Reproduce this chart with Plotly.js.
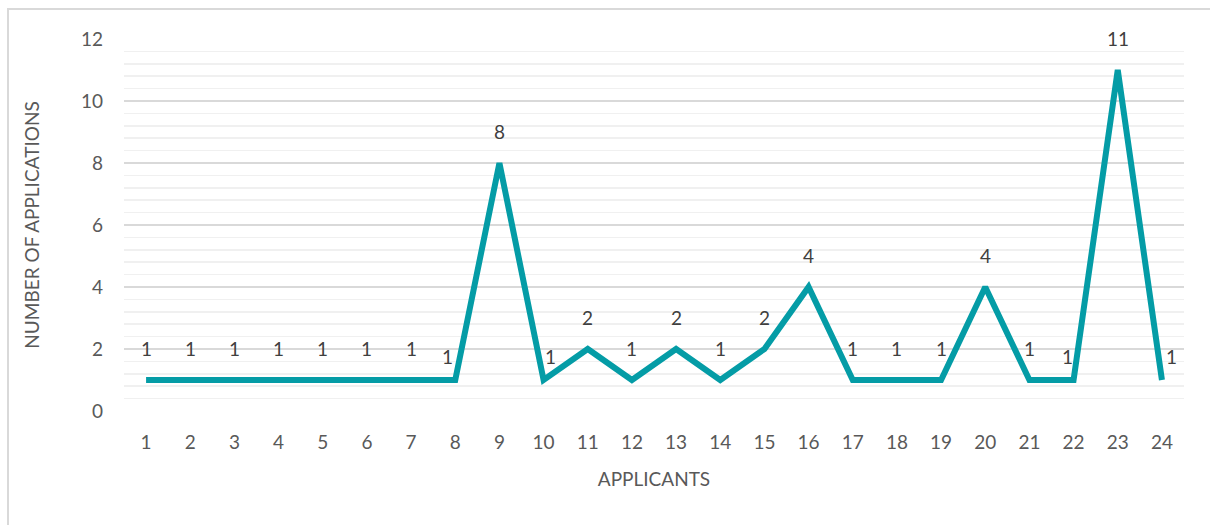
<!DOCTYPE html>
<html>
<head>
<meta charset="utf-8">
<script src="https://cdn.plot.ly/plotly-3.0.1.min.js"></script>
<style>
  html, body { margin: 0; padding: 0; background: #ffffff; }
  #wrap { position: relative; width: 1210px; height: 525px; overflow: hidden; }
  #frame { position: absolute; left: 7px; top: 8px; width: 1300px; height: 600px; border-top: 2px solid #d9d9d9; border-left: 2px solid #d9d9d9; }
  #chart { position: absolute; left: 0; top: 0; width: 1210px; height: 525px; }
</style>
</head>
<body>
<div id="wrap">
  <div id="frame"></div>
  <div id="chart"></div>
</div>
<script>
// Data
const applicants = [1,2,3,4,5,6,7,8,9,10,11,12,13,14,15,16,17,18,19,20,21,22,23,24];
const applications = [1,1,1,1,1,1,1,1,8,1,2,1,2,1,2,4,1,1,1,4,1,1,11,1];
const xTitle = 'APPLICANTS';
const yTitle = 'NUMBER OF APPLICATIONS';

// Label offsets (style only): Excel nudges some labels sideways to avoid the line
const labelDx = [0,0,0,0,0,0,0,-8,0,7,0,0,0,0,0,0,0,0,0,0,0,-6,0,10];
const labelDy = [32,32,32,32,32,32,32,24,32,24,32,32,32,32,32,32,32,32,32,32,32,24,32,24];

const fontFam = 'Lato, "Open Sans", sans-serif';
const grey = '#595959';
const fs = 19;

const trace = {
  x: applicants,
  y: applications,
  type: 'scatter',
  mode: 'lines',
  line: { color: '#049CA6', width: 6, shape: 'linear' },
  hoverinfo: 'skip'
};

const annotations = applicants.map((a, i) => ({
  x: a, y: applications[i], xref: 'x', yref: 'y',
  text: String(applications[i]), showarrow: false,
  xshift: labelDx[i], yshift: labelDy[i],
  font: { family: fontFam, size: fs, color: '#404040' }
}));

const layout = {
  width: 1210, height: 525,
  margin: { l: 124, r: 26, t: 39, b: 114 },
  paper_bgcolor: 'rgba(0,0,0,0)',
  plot_bgcolor: 'rgba(0,0,0,0)',
  showlegend: false,
  font: { family: fontFam, size: fs, color: grey },
  xaxis: {
    range: [0.5, 24.5],
    tickvals: applicants,
    ticktext: applicants.map(String),
    showgrid: false, zeroline: false, showline: false,
    ticks: '', ticklabelstandoff: 18,
    tickfont: { family: fontFam, size: fs, color: grey },
    title: { text: xTitle, font: { family: fontFam, size: fs, color: grey }, standoff: 20 },
    fixedrange: true
  },
  yaxis: {
    range: [0, 12],
    dtick: 2, tick0: 0,
    showgrid: true, gridcolor: '#d9d9d9', gridwidth: 1.5,
    zeroline: false, showline: false,
    ticks: '', ticklabelstandoff: 20,
    tickfont: { family: fontFam, size: fs, color: grey },
    minor: { dtick: 0.4, tick0: 0, showgrid: true, gridcolor: '#f0f0f0', gridwidth: 1.5, ticks: '' },
    title: { text: yTitle, font: { family: fontFam, size: fs, color: grey }, standoff: 36 },
    fixedrange: true
  },
  annotations: annotations
};

Plotly.newPlot('chart', [trace], layout, { displayModeBar: false, staticPlot: true });
</script>
</body>
</html>
